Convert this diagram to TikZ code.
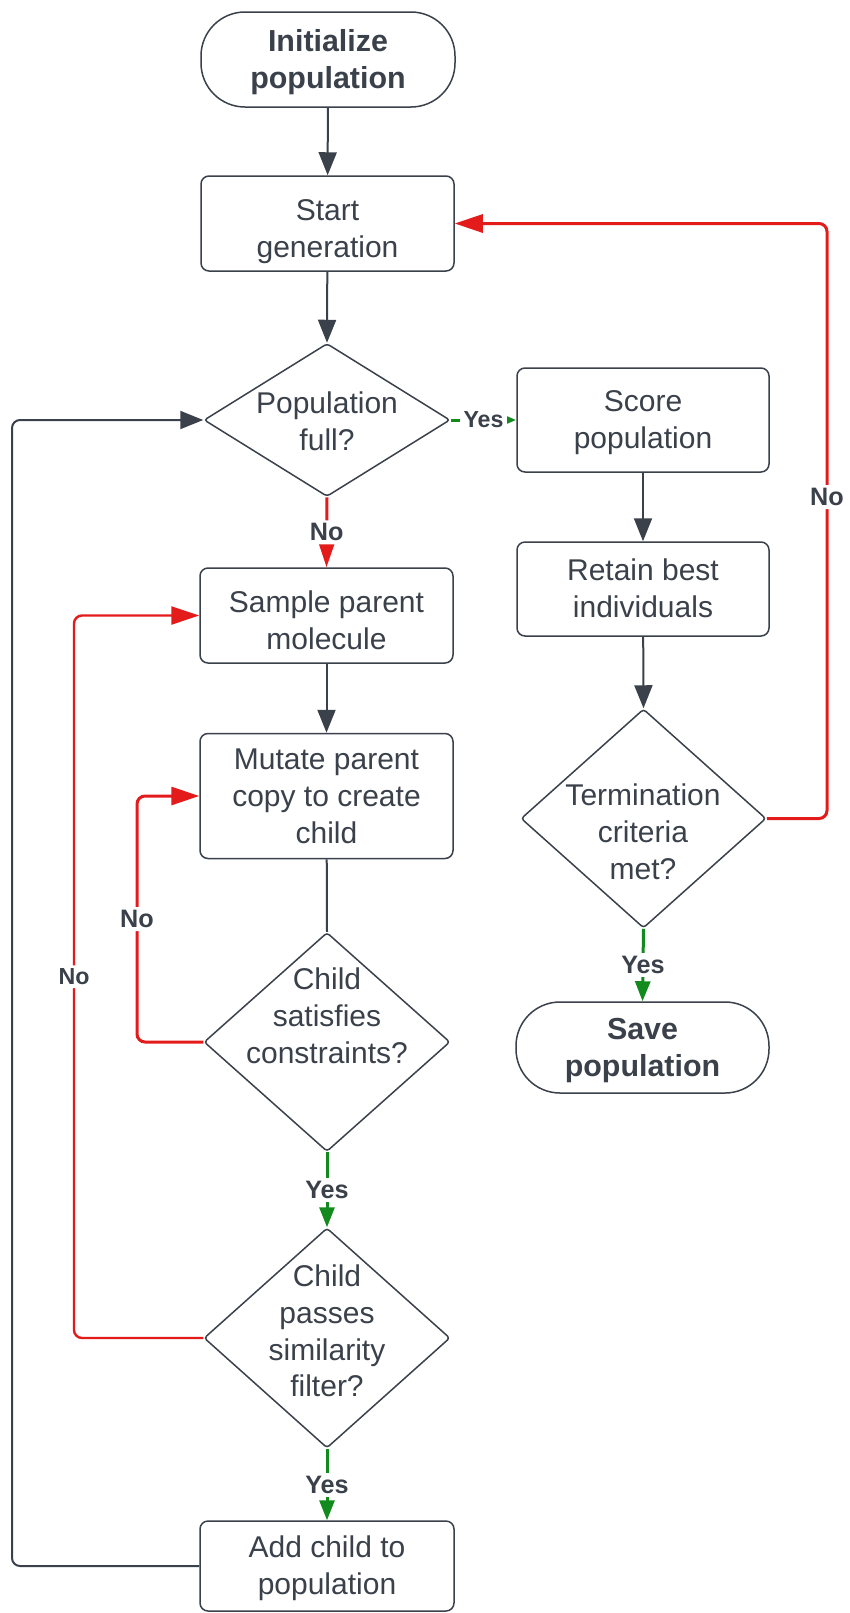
\documentclass[tikz,border=0pt]{standalone}
\usepackage{fontspec}
\setmainfont{Liberation Sans}
\usetikzlibrary{shapes.geometric,arrows.meta}

\definecolor{ink}{HTML}{3A414A}
\definecolor{nored}{HTML}{E31B1B}
\definecolor{yesgreen}{HTML}{138A1E}

\newcommand\flowtext{\fontsize{15}{18.4}\selectfont}
\newcommand\flowtitle{\bfseries\fontsize{15.2}{18.4}\selectfont}
\newcommand\flowlabel{\bfseries\fontsize{12.6}{14}\selectfont}
\newcommand\flowsmall{\bfseries\fontsize{11.6}{13}\selectfont}
% line struts: every line gets the same line box
\newcommand\lbox{\rule[-0.22\baselineskip]{0pt}{\baselineskip}}
\newcommand\lboxtop{\rule[-0.22\baselineskip]{0pt}{1.3\baselineskip}}

\begin{document}
\begin{tikzpicture}[x=0.5pt,y=-0.5pt,
  every node/.style={text=ink},
  proc/.style={draw=ink, line width=0.75pt, rounded corners=4pt, fill=white,
    minimum width=126.5pt, inner sep=0pt, align=center, font=\flowtext},
  term/.style={draw=ink, line width=0.75pt, rounded corners=22pt, fill=white,
    minimum width=127pt, inner sep=0pt, align=center, font=\flowtitle},
  decision/.style={draw=ink, line width=0.75pt, diamond, rounded corners=1.5pt,
    inner sep=0pt, minimum width=123pt},
  dtext/.style={align=center, font=\flowtext, inner sep=0pt},
  lbl/.style={font=\flowlabel, fill=white, inner sep=1.6pt},
  slbl/.style={lbl, font=\flowsmall},
  flow/.style={draw=ink, line width=1pt, -{Triangle[length=11.5pt,width=9pt]}},
  plain/.style={draw=ink, line width=1pt},
  noflow/.style={draw=nored, line width=1.5pt, rounded corners=4pt,
    -{Triangle[length=14pt,width=9pt]}},
  yesflow/.style={draw=yesgreen, line width=1.5pt,
    -{Triangle[length=10pt,width=7.5pt]}},
]
\useasboundingbox (0,0) rectangle (850,1613);

% main column
\node[term, minimum height=47.5pt] (init) at (328,59.5) {\lbox Initialize\\\lbox population};
\node[proc, minimum height=47.5pt] (start) at (327.5,223.5) {\lboxtop Start\\\lbox generation};
\node[decision, minimum height=76.5pt] (pop) at (327,420) {};
\node[dtext] (popt) at (327,421) {Population\\full?};
\node[proc, minimum height=47.5pt] (sample) at (326.5,615.5) {\lboxtop Sample parent\\\lbox molecule};
\node[proc, minimum height=62.5pt] (mutate) at (326.5,796) {\lbox Mutate parent\\\lbox copy to create\\\lbox child};
\node[decision, minimum height=109.5pt] (constr) at (327,1042) {};
\node[dtext] (constrt) at (327,1016) {Child\\satisfies\\constraints?};
\node[decision, minimum height=110pt] (sim) at (327,1338) {};
\node[dtext] (simt) at (327,1331) {Child\\passes\\similarity\\filter?};
\node[proc, minimum height=45pt, minimum width=127pt] (add) at (327,1566) {\lbox Add child to\\\lbox population};

% right column
\node[proc, minimum height=52pt, minimum width=126pt] (score) at (643,420) {\lbox Score\\\lbox population};
\node[proc, minimum height=47pt, minimum width=126pt] (retain) at (643,589) {\lbox Retain best\\\lbox individuals};
\node[decision, minimum height=109.5pt, minimum width=122.5pt] (termc) at (643.5,818.5) {};
\node[dtext] (termt) at (643,832) {Termination\\criteria\\met?};
\node[term, minimum height=45.5pt, minimum width=126.5pt] (save) at (642.5,1047.5) {\lbox Save\\\lbox population};

% loop rails
\coordinate (railR) at (827,0);
\coordinate (railA) at (137,0);
\coordinate (railB) at (74,0);
\coordinate (railC) at (12,0);

% straight connectors
\draw[flow] (init) -- (start);
\draw[flow] (start) -- (pop.north);
\draw[flow] (sample) -- (mutate);
\draw[plain] (mutate) -- (constr.north);
\draw[flow] (score) -- (retain);
\draw[flow] (retain) -- (termc.north);

\draw[yesflow, -{Triangle[length=6pt,width=4.5pt]}] (pop.east) -- node[slbl] (yes1) {Yes} (score.west);
\draw[noflow] (pop.south) -- node[lbl] (no1) {No} (sample.north);
\draw[yesflow] (constr.south) -- node[lbl] (yes2) {Yes} (sim.north);
\draw[yesflow] (sim.south) -- node[lbl] (yes3) {Yes} (add.north);
\draw[yesflow] (termc.south) -- node[lbl] (yes4) {Yes} (save.north);

% feedback loops
\draw[noflow] (termc.east) -- (termc.east -| railR)
  -- node[lbl, pos=0.54] (no2) {No} (start.east -| railR) -- (start.east);
\draw[noflow] (constr.west) -- (constr.west -| railA)
  -- node[lbl] (no3) {No} (mutate.west -| railA) -- (mutate.west);
\draw[noflow, line width=1.2pt] (sim.west) -- (sim.west -| railB)
  -- node[slbl] (no4) {No} (sample.west -| railB) -- (sample.west);
\draw[flow, rounded corners=4pt] (add.west) -- (add.west -| railC)
  -- (pop.west -| railC) -- (pop.west);
\end{tikzpicture}
\end{document}
